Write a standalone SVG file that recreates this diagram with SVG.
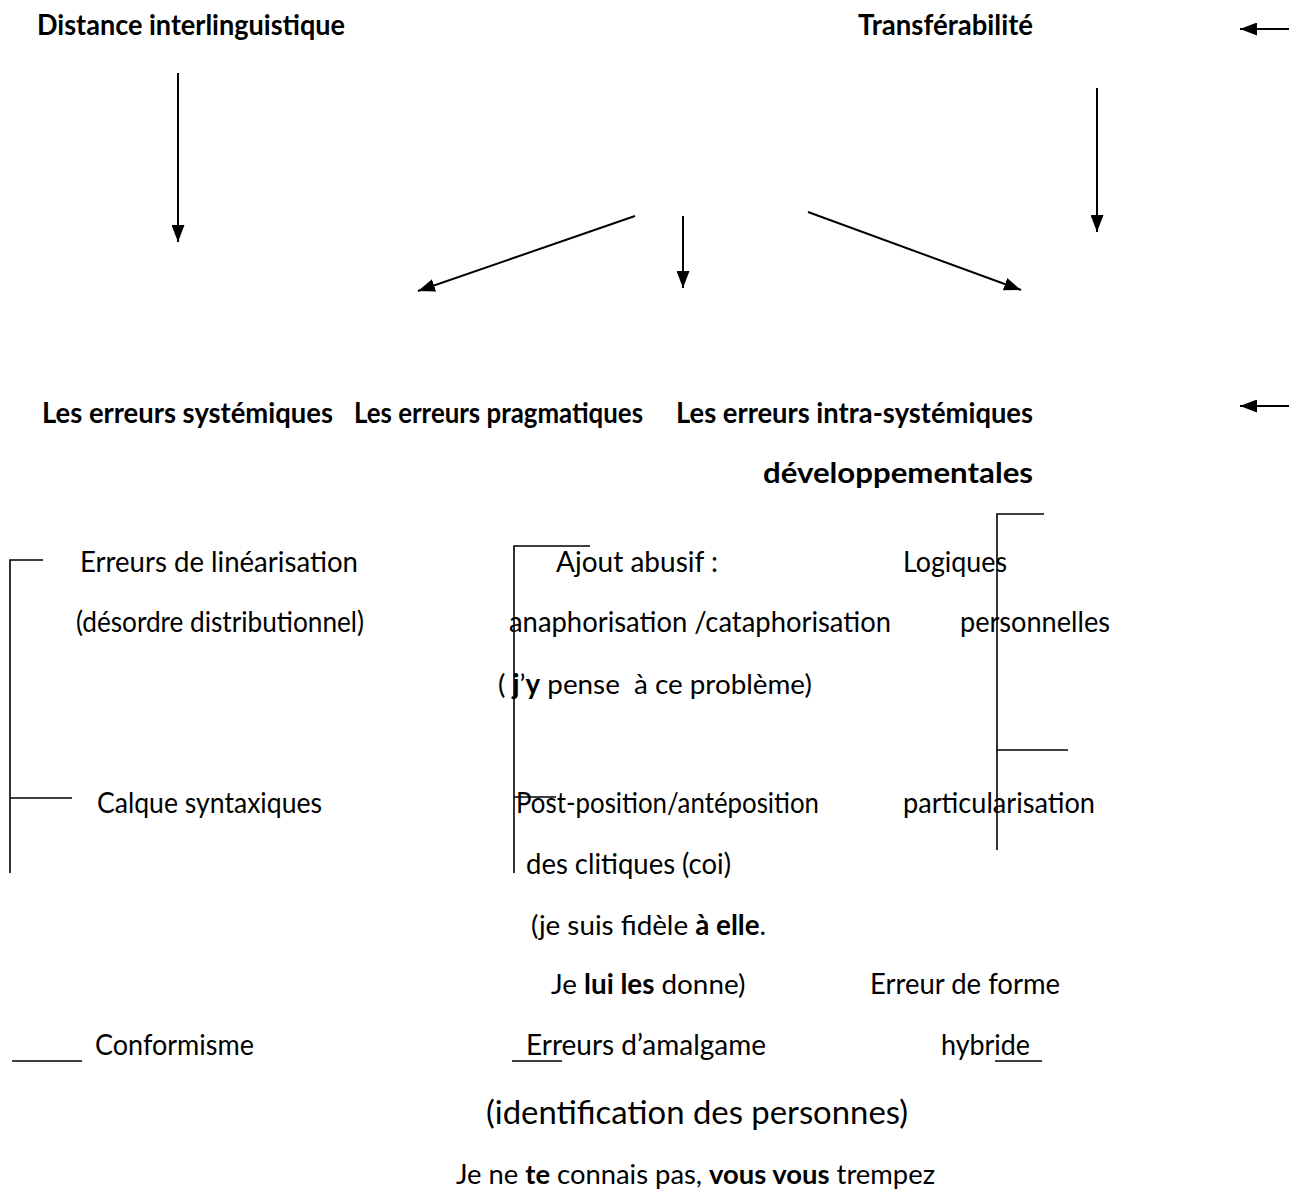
<svg xmlns="http://www.w3.org/2000/svg" width="1299" height="1198" viewBox="0 0 1299 1198">
  <style>
    text { font-family: Lato, "Liberation Sans", sans-serif; font-size: 28.5px; fill: #000; }
    .b { font-weight: bold; }
    .big { font-size: 32.5px; }
    .mix { font-size: 27.8px; }
    .mix-s { font-size: 27.4px; }
    .ln { stroke: #000; stroke-width: 1.6; fill: none; }
    .ar { stroke: #000; stroke-width: 2; fill: none; marker-end: url(#ah); }
  </style>
  <defs>
    <marker id="ah" viewBox="0 0 17 13" refX="17" refY="6.5" markerWidth="17" markerHeight="13" markerUnits="userSpaceOnUse" orient="auto">
      <path d="M0,0 L17,6.5 L0,13 z" fill="#000"/>
    </marker>
  </defs>
  <rect width="1299" height="1198" fill="#fff"/>

  <!-- top level -->
  <g id="distance"><text class="b" x="37" y="35" textLength="308" lengthAdjust="spacingAndGlyphs">Distance interlinguistique</text></g>
  <g id="transferabilite"><text class="b" x="858" y="35" textLength="175" lengthAdjust="spacingAndGlyphs">Transférabilité</text></g>

  <!-- error categories -->
  <g id="systemiques"><text class="b" x="42" y="423" textLength="291" lengthAdjust="spacingAndGlyphs">Les erreurs systémiques</text></g>
  <g id="pragmatiques"><text class="b" x="354" y="423" textLength="289" lengthAdjust="spacingAndGlyphs">Les erreurs pragmatiques</text></g>
  <g id="intra-systemiques">
    <text class="b" x="676" y="423" textLength="357" lengthAdjust="spacingAndGlyphs">Les erreurs intra-systémiques</text>
    <text class="b" x="763" y="483" textLength="270" lengthAdjust="spacingAndGlyphs">développementales</text>
  </g>

  <!-- left branch -->
  <g id="linearisation">
    <text x="80" y="572" textLength="278" lengthAdjust="spacingAndGlyphs">Erreurs de linéarisation</text>
    <text x="76" y="632" textLength="288" lengthAdjust="spacingAndGlyphs">(désordre distributionnel)</text>
  </g>
  <g id="calque"><text x="97" y="813" textLength="225" lengthAdjust="spacingAndGlyphs">Calque syntaxiques</text></g>
  <g id="conformisme"><text x="95" y="1055" textLength="159" lengthAdjust="spacingAndGlyphs">Conformisme</text></g>

  <!-- middle branch -->
  <g id="ajout">
    <text x="556" y="572" textLength="162" lengthAdjust="spacingAndGlyphs">Ajout abusif :</text>
    <text x="509" y="632" textLength="382" lengthAdjust="spacingAndGlyphs">anaphorisation /cataphorisation</text>
    <text class="mix" x="498" y="694" xml:space="preserve">( <tspan class="b">j</tspan>’<tspan class="b">y</tspan> pense  à ce problème)</text>
  </g>
  <g id="post-position">
    <text x="516" y="813" textLength="303" lengthAdjust="spacingAndGlyphs">Post-position/antéposition</text>
    <text x="526" y="874" textLength="205" lengthAdjust="spacingAndGlyphs">des clitiques (coi)</text>
    <text class="mix" x="531" y="935">(je suis fidèle <tspan class="b">à elle</tspan>.</text>
    <text class="mix" x="551" y="994">Je <tspan class="b">lui les</tspan> donne)</text>
  </g>
  <g id="amalgame">
    <text x="526" y="1055" textLength="240" lengthAdjust="spacingAndGlyphs">Erreurs d’amalgame</text>
    <text class="big" x="486" y="1124" textLength="422" lengthAdjust="spacingAndGlyphs">(identification des personnes)</text>
    <text class="mix-s" x="456" y="1184">Je ne <tspan class="b">te</tspan> connais pas, <tspan class="b">vous vous</tspan> trempez</text>
  </g>

  <!-- right branch -->
  <g id="logiques">
    <text x="903" y="572" textLength="104" lengthAdjust="spacingAndGlyphs">Logiques</text>
    <text x="960" y="632" textLength="150" lengthAdjust="spacingAndGlyphs">personnelles</text>
  </g>
  <g id="particularisation"><text x="903" y="813" textLength="192" lengthAdjust="spacingAndGlyphs">particularisation</text></g>
  <g id="forme-hybride">
    <text x="870" y="994" textLength="190" lengthAdjust="spacingAndGlyphs">Erreur de forme</text>
    <text x="941" y="1055" textLength="89" lengthAdjust="spacingAndGlyphs">hybride</text>
  </g>

  <!-- arrows, brackets and rules -->
  <g id="connectors">
    <line class="ar" x1="178" y1="73" x2="178" y2="242"/>
    <line class="ar" x1="1097" y1="88" x2="1097" y2="232"/>
    <line class="ar" x1="635" y1="216" x2="418" y2="291"/>
    <line class="ar" x1="683" y1="216" x2="683" y2="288"/>
    <line class="ar" x1="808" y1="212" x2="1021" y2="290"/>
    <line class="ar" x1="1289" y1="29" x2="1240" y2="29"/>
    <line class="ar" x1="1289" y1="406" x2="1240" y2="406"/>

    <!-- left bracket -->
    <path class="ln" d="M43,560 H10 V873"/>
    <line class="ln" x1="10" y1="798" x2="72" y2="798"/>
    <line class="ln" x1="12" y1="1061" x2="82" y2="1061"/>

    <!-- middle bracket -->
    <path class="ln" d="M590,546 H514 V873"/>
    <line class="ln" x1="514" y1="797" x2="556" y2="797"/>
    <line class="ln" x1="512" y1="1061" x2="562" y2="1061"/>

    <!-- right bracket -->
    <path class="ln" d="M1044,514 H997 V850"/>
    <line class="ln" x1="997" y1="750" x2="1068" y2="750"/>
    <line class="ln" x1="995" y1="1061" x2="1042" y2="1061"/>
  </g>
</svg>
